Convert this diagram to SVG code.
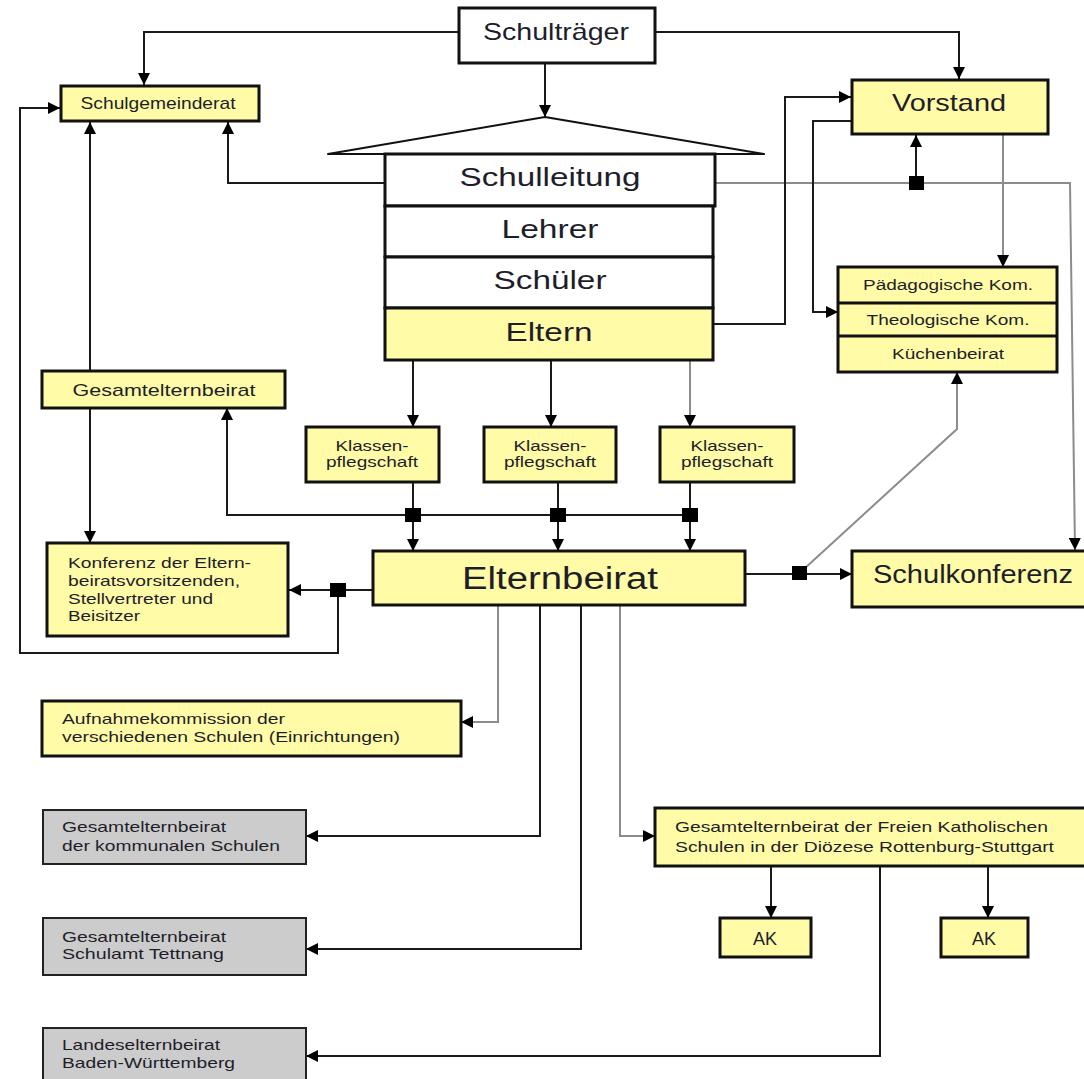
<svg xmlns="http://www.w3.org/2000/svg" width="1084" height="1079" viewBox="0 0 1084 1079">
<style>
.y{fill:#FFFBA6;stroke:#111;stroke-width:3}
.w{fill:#fff;stroke:#111;stroke-width:3}
.g{fill:#CCCCCC;stroke:#222;stroke-width:2}
.t{font-family:"Liberation Sans",Arial,sans-serif;fill:#1e1e2a}
.c{text-anchor:middle}
.ln{fill:none;stroke:#1a1a1a;stroke-width:2}
.lg{fill:none;stroke:#8c8c8c;stroke-width:2}
.sq{fill:#000}
</style>
<defs>
<marker id="a" markerUnits="userSpaceOnUse" markerWidth="12" markerHeight="12" refX="12" refY="6" orient="auto">
<path d="M0,0 L12,6 L0,12 z" fill="#000"/>
</marker>
</defs>
<rect width="1084" height="1079" fill="#fff"/>

<g id="connectors">
<path class="ln" d="M459,32 H144 V85" marker-end="url(#a)"/>
<path class="ln" d="M655,32 H959 V79" marker-end="url(#a)"/>
<path class="ln" d="M545,63 V117" marker-end="url(#a)"/>
<path class="ln" d="M385,183 H228 V122" marker-end="url(#a)"/>
<path class="lg" d="M715,183 H1070 L1075,550" marker-end="url(#a)"/>
<path class="ln" d="M916,178 V135" marker-end="url(#a)"/>
<path class="ln" d="M713,324 H785 V97 H851" marker-end="url(#a)"/>
<path class="ln" d="M852,121 H813 V312 H838" marker-end="url(#a)"/>
<path class="lg" d="M1003,135 V267" marker-end="url(#a)"/>
<path class="ln" d="M413,360 V427" marker-end="url(#a)"/>
<path class="ln" d="M551,360 V427" marker-end="url(#a)"/>
<path class="lg" d="M690,360 V427" marker-end="url(#a)"/>
<path class="ln" d="M413,482 V551" marker-end="url(#a)"/>
<path class="ln" d="M558,482 V551" marker-end="url(#a)"/>
<path class="ln" d="M690,482 V551" marker-end="url(#a)"/>
<path class="ln" d="M690,515 H227 V408" marker-end="url(#a)"/>
<path class="ln" d="M90,371 V122" marker-end="url(#a)"/>
<path class="ln" d="M90,408 V543" marker-end="url(#a)"/>
<path class="ln" d="M373,590 H289" marker-end="url(#a)"/>
<path class="ln" d="M338,590 V653 H20 V108 H60" marker-end="url(#a)"/>
<path class="ln" d="M745,574 H852" marker-end="url(#a)"/>
<path class="lg" d="M804,569 L957,429 V372" marker-end="url(#a)"/>
<path class="lg" d="M498,605 V722 H461" marker-end="url(#a)"/>
<path class="ln" d="M540,605 V836 H306" marker-end="url(#a)"/>
<path class="ln" d="M581,605 V949 H306" marker-end="url(#a)"/>
<path class="lg" d="M620,605 V836 H655" marker-end="url(#a)"/>
<path class="ln" d="M771,866 V918" marker-end="url(#a)"/>
<path class="ln" d="M988,866 V918" marker-end="url(#a)"/>
<path class="ln" d="M880,866 V1056 H306" marker-end="url(#a)"/>
<rect class="sq" x="909" y="176" width="15" height="14"/>
<rect class="sq" x="405" y="508" width="16" height="14"/>
<rect class="sq" x="550" y="508" width="16" height="14"/>
<rect class="sq" x="682" y="508" width="16" height="14"/>
<rect class="sq" x="330" y="583" width="16" height="14"/>
<rect class="sq" x="792" y="566" width="15" height="14"/>
</g>

<g id="schultraeger">
<rect class="w" x="459" y="8" width="196" height="55"/>
<text class="t c" x="556" y="40" font-size="24" textLength="146" lengthAdjust="spacingAndGlyphs">Schulträger</text>
</g>

<g id="schulgemeinderat">
<rect class="y" x="61" y="86" width="198" height="35"/>
<text class="t c" x="158" y="109" font-size="17" textLength="155" lengthAdjust="spacingAndGlyphs">Schulgemeinderat</text>
</g>

<g id="vorstand">
<rect class="y" x="852" y="80" width="196" height="54"/>
<text class="t c" x="949" y="111" font-size="24" textLength="114" lengthAdjust="spacingAndGlyphs">Vorstand</text>
</g>

<g id="schule">
<path d="M545,117 L764,154 H328 Z" fill="#fff" stroke="#111" stroke-width="2" stroke-linejoin="round"/>
<rect class="w" x="385" y="154" width="330" height="52"/>
<text class="t c" x="550" y="186" font-size="25" textLength="181" lengthAdjust="spacingAndGlyphs">Schulleitung</text>
<rect class="w" x="385" y="206" width="328" height="51"/>
<text class="t c" x="550" y="238" font-size="25" textLength="97" lengthAdjust="spacingAndGlyphs">Lehrer</text>
<rect class="w" x="385" y="257" width="328" height="51"/>
<text class="t c" x="550" y="289" font-size="25" textLength="113" lengthAdjust="spacingAndGlyphs">Schüler</text>
</g>

<g id="eltern">
<rect class="y" x="385" y="308" width="328" height="52"/>
<text class="t c" x="549" y="341" font-size="25" textLength="87" lengthAdjust="spacingAndGlyphs">Eltern</text>
</g>

<g id="kommissionen">
<rect class="y" x="838" y="267" width="219" height="105"/>
<line x1="838" y1="303" x2="1057" y2="303" stroke="#111" stroke-width="3"/>
<line x1="838" y1="336" x2="1057" y2="336" stroke="#111" stroke-width="3"/>
<text class="t c" x="948" y="290" font-size="14" textLength="170" lengthAdjust="spacingAndGlyphs">Pädagogische Kom.</text>
<text class="t c" x="948" y="325" font-size="14" textLength="163" lengthAdjust="spacingAndGlyphs">Theologische Kom.</text>
<text class="t c" x="948" y="359" font-size="14" textLength="112" lengthAdjust="spacingAndGlyphs">Küchenbeirat</text>
</g>

<g id="gesamtelternbeirat">
<rect class="y" x="42" y="371" width="243" height="37"/>
<text class="t c" x="164" y="396" font-size="17" textLength="183" lengthAdjust="spacingAndGlyphs">Gesamtelternbeirat</text>
</g>

<g id="klassenpflegschaft1">
<rect class="y" x="306" y="427" width="133" height="55"/>
<text class="t c" x="372" y="451" font-size="15" textLength="73" lengthAdjust="spacingAndGlyphs">Klassen-</text>
<text class="t c" x="372" y="467" font-size="15" textLength="92" lengthAdjust="spacingAndGlyphs">pflegschaft</text>
</g>
<g id="klassenpflegschaft2">
<rect class="y" x="484" y="427" width="132" height="55"/>
<text class="t c" x="550" y="451" font-size="15" textLength="73" lengthAdjust="spacingAndGlyphs">Klassen-</text>
<text class="t c" x="550" y="467" font-size="15" textLength="92" lengthAdjust="spacingAndGlyphs">pflegschaft</text>
</g>
<g id="klassenpflegschaft3">
<rect class="y" x="660" y="427" width="134" height="55"/>
<text class="t c" x="727" y="451" font-size="15" textLength="73" lengthAdjust="spacingAndGlyphs">Klassen-</text>
<text class="t c" x="727" y="467" font-size="15" textLength="92" lengthAdjust="spacingAndGlyphs">pflegschaft</text>
</g>

<g id="konferenz">
<rect class="y" x="47" y="543" width="241" height="93"/>
<text class="t" x="68" y="568" font-size="15" textLength="183" lengthAdjust="spacingAndGlyphs">Konferenz der Eltern-</text>
<text class="t" x="68" y="586" font-size="15" textLength="172" lengthAdjust="spacingAndGlyphs">beiratsvorsitzenden,</text>
<text class="t" x="68" y="604" font-size="15" textLength="145" lengthAdjust="spacingAndGlyphs">Stellvertreter und</text>
<text class="t" x="68" y="621" font-size="15" textLength="72" lengthAdjust="spacingAndGlyphs">Beisitzer</text>
</g>

<g id="elternbeirat">
<rect class="y" x="373" y="551" width="372" height="54"/>
<text class="t c" x="560" y="589" font-size="31" textLength="196" lengthAdjust="spacingAndGlyphs">Elternbeirat</text>
</g>

<g id="schulkonferenz">
<rect class="y" x="852" y="551" width="240" height="56"/>
<text class="t" x="873" y="583" font-size="26" textLength="200" lengthAdjust="spacingAndGlyphs">Schulkonferenz</text>
</g>

<g id="aufnahmekommission">
<rect class="y" x="42" y="701" width="419" height="55"/>
<text class="t" x="62" y="724" font-size="15" textLength="223" lengthAdjust="spacingAndGlyphs">Aufnahmekommission der</text>
<text class="t" x="62" y="742" font-size="15" textLength="338" lengthAdjust="spacingAndGlyphs">verschiedenen Schulen (Einrichtungen)</text>
</g>

<g id="kommunal">
<rect class="g" x="43" y="810" width="263" height="54"/>
<text class="t" x="62" y="832" font-size="15" textLength="164" lengthAdjust="spacingAndGlyphs">Gesamtelternbeirat</text>
<text class="t" x="62" y="851" font-size="15" textLength="218" lengthAdjust="spacingAndGlyphs">der kommunalen Schulen</text>
</g>

<g id="tettnang">
<rect class="g" x="43" y="918" width="263" height="57"/>
<text class="t" x="62" y="942" font-size="15" textLength="164" lengthAdjust="spacingAndGlyphs">Gesamtelternbeirat</text>
<text class="t" x="62" y="959" font-size="15" textLength="162" lengthAdjust="spacingAndGlyphs">Schulamt Tettnang</text>
</g>

<g id="landeselternbeirat">
<rect class="g" x="43" y="1028" width="263" height="60"/>
<text class="t" x="62" y="1050" font-size="15" textLength="158" lengthAdjust="spacingAndGlyphs">Landeselternbeirat</text>
<text class="t" x="62" y="1068" font-size="15" textLength="173" lengthAdjust="spacingAndGlyphs">Baden-Württemberg</text>
</g>

<g id="freiekatholische">
<rect class="y" x="655" y="808" width="440" height="58"/>
<text class="t" x="675" y="832" font-size="15" textLength="373" lengthAdjust="spacingAndGlyphs">Gesamtelternbeirat der Freien Katholischen</text>
<text class="t" x="675" y="852" font-size="15" textLength="379" lengthAdjust="spacingAndGlyphs">Schulen in der Diözese Rottenburg-Stuttgart</text>
</g>

<g id="ak1">
<rect class="y" x="720" y="918" width="91" height="39"/>
<text class="t c" x="765" y="945" font-size="18">AK</text>
</g>
<g id="ak2">
<rect class="y" x="941" y="918" width="87" height="39"/>
<text class="t c" x="984" y="945" font-size="18">AK</text>
</g>
</svg>
